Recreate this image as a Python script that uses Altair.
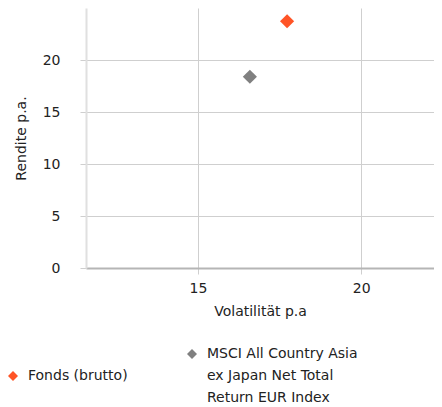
import altair as alt
import pandas as pd

series = ["Fonds (brutto)", "MSCI All Country Asia ex Japan Net Total Return EUR Index"]
volatility = [17.73, 16.59]
returns = [23.73, 18.39]
colors = ["#FF5426", "#808080"]
x_ticks = [15, 20]
y_ticks = [0, 5, 10, 15, 20]
x_domain = [11.57, 22.23]
y_domain = [0, 25]

df = pd.DataFrame({"Serie": series, "Volatilität": volatility, "Rendite": returns})

FONT = "DejaVu Sans"
label_expr = ("datum.label == 'Fonds (brutto)' ? datum.label : "
              "['MSCI All Country Asia', 'ex Japan Net Total', 'Return EUR Index']")

chart = alt.Chart(df).mark_point(shape="diamond", filled=True, size=200, opacity=1).encode(
    x=alt.X("Volatilität:Q", scale=alt.Scale(domain=x_domain, nice=False, zero=False),
            axis=alt.Axis(title="Volatilität p.a", values=x_ticks, tickSize=6,
                          labelPadding=7, titlePadding=9, domainColor="#b5b5b5",
                          domainWidth=2, gridColor="#cfcfcf", tickColor="#cfcfcf")),
    y=alt.Y("Rendite:Q", scale=alt.Scale(domain=y_domain, nice=False),
            axis=alt.Axis(title="Rendite p.a.", values=y_ticks, tickSize=6,
                          labelPadding=20, titlePadding=14, domainColor="#e0e0e0",
                          domainWidth=2, gridColor="#cfcfcf", tickColor="#cfcfcf")),
    color=alt.Color("Serie:N", scale=alt.Scale(domain=series, range=colors),
                    legend=alt.Legend(title=None, orient="none", direction="horizontal",
                                      legendX=-80, legendY=339, symbolType="diamond",
                                      symbolSize=100, labelOffset=8, columnPadding=57,
                                      labelLimit=300, labelExpr=label_expr, padding=0)),
).properties(
    width=348, height=260,
    padding={"left": 78, "top": 0, "right": 0, "bottom": 140},
    autosize=alt.AutoSizeParams(type="none"),
).configure(
    style={"guide-label": {"lineHeight": 22}},
).configure_view(stroke=None).configure_axis(
    labelFont=FONT, titleFont=FONT, labelFontSize=14, titleFontSize=14,
    labelColor="#222222", titleColor="#222222", titleFontWeight="normal",
).configure_legend(
    labelFont=FONT, labelFontSize=14, labelColor="#222222",
)

chart.save("out.html", embed_options={"renderer": "svg", "actions": False})
